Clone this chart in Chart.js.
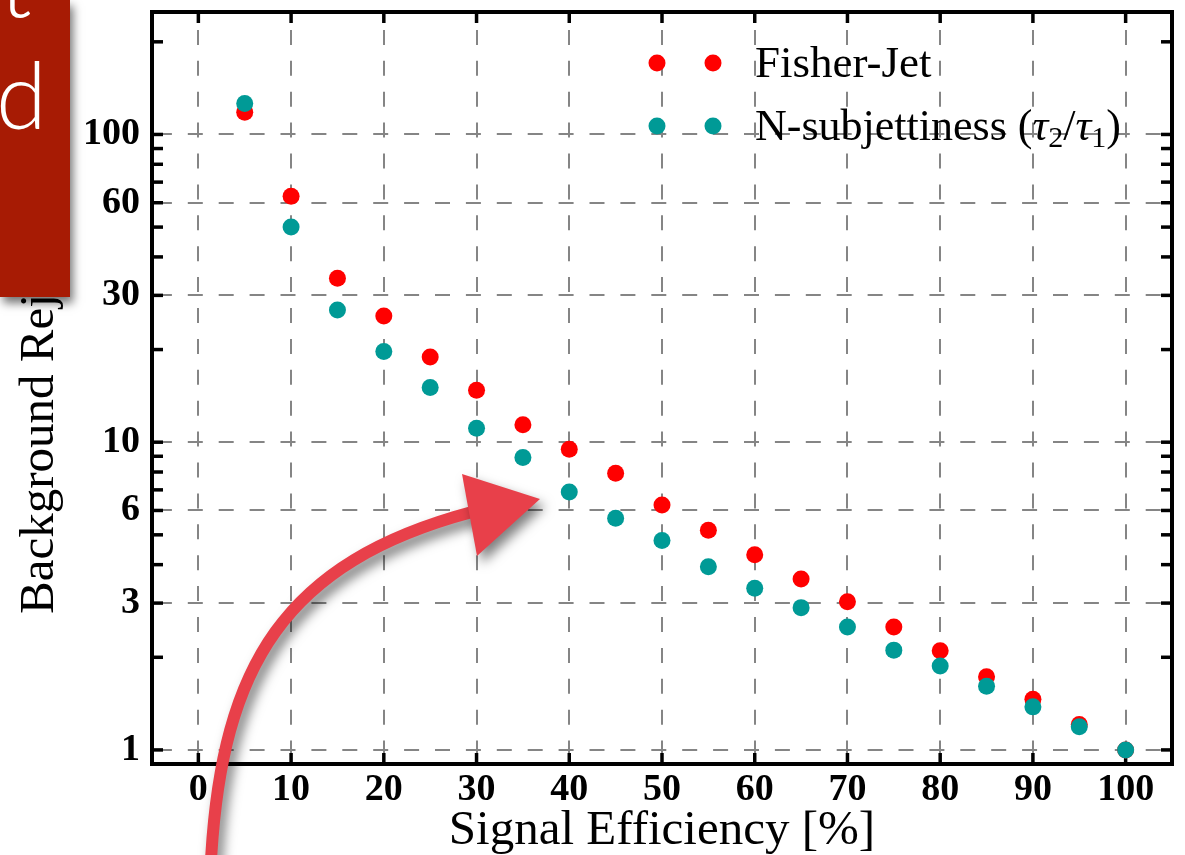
<!DOCTYPE html>
<html>
<head>
<meta charset="utf-8">
<script src="https://cdn.jsdelivr.net/npm/chart.js@4.4.0/dist/chart.umd.min.js"></script>
<style>
    html, body { margin: 0; padding: 0; background: #fff; }
    #wrap { position: relative; width: 1185px; height: 855px; overflow: hidden; }
    #grafica { position: absolute; left: 0; top: 0; }
    #tapa {
        position: absolute; left: 0; top: 0; width: 70px; height: 297px;
        background: #a71b04; box-shadow: 3px 6px 9px rgba(0, 0, 0, 0.55); overflow: hidden;
    }
    .letra {
        position: absolute; color: #fff; font-family: Lato, "Open Sans", sans-serif;
        font-weight: 300; font-size: 92px; line-height: 92px;
    }
</style>
</head>
<body>
<div id="wrap">
    <canvas id="grafica" width="1185" height="855"></canvas>
    <div id="tapa">
        <span class="letra" style="left:0px; top:-64px;">t</span>
        <span class="letra" style="left:-4px; top:48px;">d</span>
    </div>
</div>
<script>
// Datos
const eficiencia = [5, 10, 15, 20, 25, 30, 35, 40, 45, 50, 55, 60, 65, 70, 75, 80, 85, 90, 95, 100];
const fisherJet = [118, 63, 34.1, 25.7, 18.9, 14.75, 11.4, 9.48, 7.93, 6.25, 5.17, 4.31, 3.59, 3.03, 2.51, 2.10, 1.73, 1.46, 1.21, 1.0];
const nSubjettiness = [126, 50, 26.9, 19.7, 15.05, 11.1, 8.91, 6.89, 5.66, 4.79, 3.94, 3.35, 2.90, 2.51, 2.11, 1.875, 1.61, 1.38, 1.19, 1.0];

const ticksX = [0, 10, 20, 30, 40, 50, 60, 70, 80, 90, 100];
const ticksY = [1, 3, 6, 10, 30, 60, 100];

const colorRojo = '#ff0000';
const colorTeal = '#009a96';

// ticks menores del eje log (1..9 por decada)
const ticksYMenores = [];
[1, 10, 100].forEach(d => {
    for (let m = 1; m <= 9; m++) ticksYMenores.push(m * d);
});

const fuenteSerif = '"Liberation Serif", "Times New Roman", serif';

function linea(ctx, x1, y1, x2, y2) {
    ctx.beginPath();
    ctx.moveTo(x1, y1);
    ctx.lineTo(x2, y2);
    ctx.stroke();
}

// marco grueso y ticks hacia adentro
const marcoPlugin = {
    id: 'marco',
    beforeDatasetsDraw(chart) {
        const { ctx, chartArea: a, scales: { x, y } } = chart;
        ctx.save();
        ctx.strokeStyle = '#000';
        ctx.lineWidth = 3.5;
        ticksX.forEach(v => {
            const px = x.getPixelForValue(v);
            linea(ctx, px, a.bottom, px, a.bottom - 11);
            linea(ctx, px, a.top, px, a.top + 11);
        });
        ticksYMenores.forEach(v => {
            const py = y.getPixelForValue(v);
            if (py < a.top || py > a.bottom) return;
            linea(ctx, a.left, py, a.left + 11, py);
            linea(ctx, a.right, py, a.right - 11, py);
        });
        ctx.lineWidth = 4;
        ctx.strokeRect(a.left, a.top, a.right - a.left, a.bottom - a.top);
        ctx.restore();
    }
};

// leyenda estilo matplotlib (dos puntos por entrada)
const leyendaPlugin = {
    id: 'leyenda',
    afterDatasetsDraw(chart) {
        const { ctx } = chart;
        const filas = [
            { ds: chart.data.datasets[0], y: 63 },
            { ds: chart.data.datasets[1], y: 126 }
        ];
        ctx.save();
        filas.forEach(f => {
            ctx.fillStyle = f.ds.backgroundColor;
            [657, 713].forEach(px => {
                ctx.beginPath();
                ctx.arc(px, f.y, 8.5, 0, Math.PI * 2);
                ctx.fill();
            });
        });
        ctx.fillStyle = '#000';
        ctx.textBaseline = 'alphabetic';
        ctx.font = `45px ${fuenteSerif}`;
        ctx.fillText(chart.data.datasets[0].label, 755, 77);

        // N-subjettiness (tau2/tau1)
        let px = 755;
        const yb = 140;
        const partes = [
            ['N-subjettiness (', `44px ${fuenteSerif}`, 0],
            ['\u03C4', `italic 44px ${fuenteSerif}`, 0],
            ['2', `30px ${fuenteSerif}`, 7],
            ['/', `44px ${fuenteSerif}`, 0],
            ['\u03C4', `italic 44px ${fuenteSerif}`, 0],
            ['1', `30px ${fuenteSerif}`, 7],
            [')', `44px ${fuenteSerif}`, 0]
        ];
        partes.forEach(([t, f, dy]) => {
            ctx.font = f;
            ctx.fillText(t, px, yb + dy);
            px += ctx.measureText(t).width;
        });
        ctx.restore();
    }
};

// flecha dibujada a mano encima de todo
const flechaPlugin = {
    id: 'flecha',
    afterDraw(chart) {
        const { ctx } = chart;
        ctx.save();
        ctx.shadowColor = 'rgba(0,0,0,0.5)';
        ctx.shadowBlur = 12;
        ctx.shadowOffsetX = 5;
        ctx.shadowOffsetY = 7;
        ctx.strokeStyle = '#e8404a';
        ctx.fillStyle = '#e8404a';
        ctx.lineCap = 'round';
        ctx.lineWidth = 12;
        ctx.beginPath();
        ctx.moveTo(211, 860);
        ctx.bezierCurveTo(222, 665, 285, 562, 472, 512);
        ctx.stroke();
        ctx.beginPath();
        ctx.moveTo(462, 474);
        ctx.lineTo(540, 499);
        ctx.lineTo(477, 556);
        ctx.closePath();
        ctx.fill();
        ctx.restore();
    }
};

const ctx = document.getElementById('grafica').getContext('2d');
new Chart(ctx, {
    type: 'scatter',
    data: {
        datasets: [{
            label: 'Fisher-Jet',
            data: eficiencia.map((e, i) => ({ x: e, y: fisherJet[i] })),
            backgroundColor: colorRojo,
            borderWidth: 0,
            pointRadius: 8.5,
            order: 2
        }, {
            label: 'N-subjettiness (\u03C42/\u03C41)',
            data: eficiencia.map((e, i) => ({ x: e, y: nSubjettiness[i] })),
            backgroundColor: colorTeal,
            borderWidth: 0,
            pointRadius: 8.5,
            order: 1
        }]
    },
    options: {
        responsive: false,
        animation: false,
        layout: { padding: { top: 12, right: 13, left: 0, bottom: 0 } },
        scales: {
            x: {
                type: 'linear',
                min: -5,
                max: 105,
                afterBuildTicks: s => { s.ticks = ticksX.map(v => ({ value: v })); },
                afterFit: s => { s.height = 91; s.paddingLeft = 0; s.paddingRight = 0; },
                grid: { color: '#858585', lineWidth: 2, drawTicks: false },
                border: { display: false, dash: [15, 15.9], dashOffset: 13 },
                ticks: {
                    color: '#000',
                    padding: 3,
                    maxRotation: 0,
                    font: { family: fuenteSerif, size: 38, weight: 'bold' },
                    callback: v => String(v)
                },
                title: {
                    display: true,
                    text: 'Signal Efficiency [%]',
                    color: '#000',
                    font: { family: fuenteSerif, size: 49, lineHeight: 1 },
                    padding: { top: 0, bottom: -1 }
                }
            },
            y: {
                type: 'logarithmic',
                min: 0.9,
                max: 250,
                afterBuildTicks: s => { s.ticks = ticksY.map(v => ({ value: v })); },
                afterFit: s => { s.width = 152; s.paddingTop = 0; s.paddingBottom = 0; },
                grid: { color: '#858585', lineWidth: 2, drawTicks: false },
                border: { display: false, dash: [15, 15.9], dashOffset: 26 },
                ticks: {
                    color: '#000',
                    padding: 12,
                    font: { family: fuenteSerif, size: 38, weight: 'bold' },
                    callback: v => String(v)
                },
                title: {
                    display: true,
                    text: 'Background Rejection ',
                    color: '#000',
                    font: { family: fuenteSerif, size: 49, lineHeight: 1 },
                    padding: { top: 16, bottom: 0 }
                }
            }
        },
        plugins: {
            legend: { display: false },
            tooltip: { enabled: false }
        }
    },
    plugins: [marcoPlugin, leyendaPlugin, flechaPlugin]
});
</script>
</body>
</html>
